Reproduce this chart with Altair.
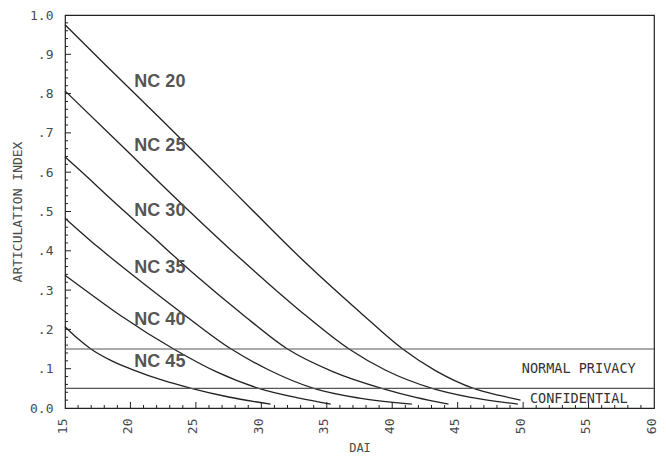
import altair as alt
import pandas as pd

# ---- data ----
NC_NAMES = ["NC 20", "NC 25", "NC 30", "NC 35", "NC 40", "NC 45"]

DAI_NC20 = [15, 18, 22.2, 26, 29.3, 32.9, 37.5, 40.8, 43.3, 46.2, 48.2, 49.8]
AI_NC20 = [0.975, 0.876, 0.739, 0.614, 0.504, 0.385, 0.245, 0.15, 0.095, 0.05, 0.032, 0.02]
DAI_NC25 = [15, 19, 24.4, 28.5, 32.9, 36.7, 39.5, 43.05, 46, 49.6]
AI_NC25 = [0.807, 0.678, 0.504, 0.377, 0.249, 0.15, 0.096, 0.05, 0.027, 0.01]
DAI_NC30 = [15, 16.7, 18.4, 21.5, 25, 28.5, 32.0, 35.5, 39.2, 41.8, 44.3]
AI_NC30 = [0.639, 0.588, 0.535, 0.442, 0.337, 0.24, 0.15, 0.092, 0.05, 0.027, 0.01]
DAI_NC35 = [15, 17.5, 20, 24, 27.7, 30.5, 34, 37.5, 41.5]
AI_NC35 = [0.483, 0.41, 0.343, 0.24, 0.15, 0.098, 0.05, 0.025, 0.01]
DAI_NC40 = [15, 17, 19.3, 23.3, 26.5, 29.8, 32.9, 35.3]
AI_NC40 = [0.338, 0.289, 0.234, 0.15, 0.093, 0.05, 0.025, 0.01]
DAI_NC45 = [15, 16, 16.9, 18.5, 20.2, 22.5, 24.65, 27.5, 30.7]
AI_NC45 = [0.207, 0.176, 0.152, 0.121, 0.097, 0.07, 0.05, 0.028, 0.01]

LABEL_DAI = [20.3, 20.3, 20.3, 20.3, 20.3, 20.3]
LABEL_AI = [0.830, 0.667, 0.501, 0.356, 0.224, 0.116]

LEVEL_NAMES = ["NORMAL PRIVACY", "CONFIDENTIAL"]
LEVEL_AI = [0.15, 0.05]
LEVEL_TEXT_DAI = [54.25, 54.25]
LEVEL_TEXT_AI = [0.099, 0.023]

X_TICKS = [15, 20, 25, 30, 35, 40, 45, 50, 55, 60]
X_TICK_LABELS = ["15", "20", "25", "30", "35", "40", "45", "50", "55", "60"]
X_MINOR = [v for v in range(16, 60) if v % 5 != 0]
X_MAJOR_INNER = [20, 25, 30, 35, 40, 45, 50, 55]
Y_TICKS = [0.0, 0.1, 0.2, 0.3, 0.4, 0.5, 0.6, 0.7, 0.8, 0.9, 1.0]
Y_TICK_LABELS = ["0.0", ".1", ".2", ".3", ".4", ".5", ".6", ".7", ".8", ".9", "1.0"]
Y_MINOR = [round(0.02 * i, 2) for i in range(1, 50) if i % 5 != 0]
Y_MAJOR_INNER = [0.1, 0.2, 0.3, 0.4, 0.5, 0.6, 0.7, 0.8, 0.9]

# ---- tables ----
series = [(DAI_NC20, AI_NC20), (DAI_NC25, AI_NC25), (DAI_NC30, AI_NC30),
          (DAI_NC35, AI_NC35), (DAI_NC40, AI_NC40), (DAI_NC45, AI_NC45)]
rows = []
for name, (xs, ys) in zip(NC_NAMES, series):
    for i, (x, y) in enumerate(zip(xs, ys)):
        rows.append({"nc": name, "dai": x, "ai": y, "order": i})
curves = pd.DataFrame(rows)
labels = pd.DataFrame({"nc": NC_NAMES, "dai": LABEL_DAI, "ai": LABEL_AI})
levels = pd.DataFrame({"ai": LEVEL_AI})
level_text = pd.DataFrame({"name": LEVEL_NAMES, "dai": LEVEL_TEXT_DAI, "ai": LEVEL_TEXT_AI})
xminor = pd.DataFrame({"dai": X_MINOR})
xmajor = pd.DataFrame({"dai": X_MAJOR_INNER})
yminor = pd.DataFrame({"ai": Y_MINOR})
ymajor = pd.DataFrame({"ai": Y_MAJOR_INNER})

W, H = 589, 393
FONT = "DejaVu Sans Mono"
INK = "#222222"
GREY = "#4a4a4a"

xscale = alt.Scale(domain=[15, 60], nice=False, zero=False)
yscale = alt.Scale(domain=[0, 1], nice=False)

y_label_expr = "[" + ",".join("'" + s + "'" for s in Y_TICK_LABELS) + "][round(datum.value*10)]"
x_label_expr = "[" + ",".join("'" + s + "'" for s in X_TICK_LABELS) + "][round((datum.value-15)/5)]"

xaxis = alt.Axis(values=X_TICKS, labelExpr=x_label_expr, labelAngle=270, ticks=False,
                 tickSize=0, domain=False, grid=False, labelPadding=10, labelOffset=-3,
                 labelFont=FONT, labelFontSize=13, labelColor=GREY,
                 title="DAI", titleFont=FONT, titleFontSize=12, titleFontWeight="normal",
                 titleColor=GREY, titlePadding=9)
yaxis = alt.Axis(values=Y_TICKS, labelExpr=y_label_expr, ticks=False, tickSize=0,
                 domain=False, grid=False, labelPadding=12,
                 labelFont=FONT, labelFontSize=13, labelColor=GREY,
                 title="ARTICULATION INDEX", titleFont=FONT, titleFontSize=13,
                 titleFontWeight="normal", titleColor=GREY, titlePadding=5)

X = lambda: alt.X("dai:Q", scale=xscale, axis=xaxis)
Y = lambda: alt.Y("ai:Q", scale=yscale, axis=yaxis)

lines = alt.Chart(curves).mark_line(color=INK, strokeWidth=1.3, interpolate="monotone").encode(
    x=X(), y=Y(), detail="nc:N", order="order:Q",
)

level_rules = alt.Chart(levels).mark_rule(color="#555555", strokeWidth=1.1).encode(y=Y())

nc_text = alt.Chart(labels).mark_text(
    font="Liberation Sans", fontSize=18, fontWeight="bold", color="#555555",
    align="left", baseline="middle"
).encode(x=X(), y=Y(), text="nc:N")

lvl_text = alt.Chart(level_text).mark_text(
    font=FONT, fontSize=13.5, color="#333333", align="center", baseline="middle"
).encode(x=X(), y=Y(), text="name:N")

xmin_t = alt.Chart(xminor).mark_rule(color=INK, strokeWidth=1).encode(
    x=X(), y=alt.value(H), y2=alt.value(H - 3))
xmaj_t = alt.Chart(xmajor).mark_rule(color=INK, strokeWidth=1).encode(
    x=X(), y=alt.value(H), y2=alt.value(H - 6))
ymin_t = alt.Chart(yminor).mark_rule(color=INK, strokeWidth=1).encode(
    y=Y(), x=alt.value(0), x2=alt.value(3))
ymaj_t = alt.Chart(ymajor).mark_rule(color=INK, strokeWidth=1).encode(
    y=Y(), x=alt.value(0), x2=alt.value(6))

chart = alt.layer(
    lines, level_rules, xmin_t, xmaj_t, ymin_t, ymaj_t, nc_text, lvl_text
).properties(
    width=W, height=H,
    autosize=alt.AutoSizeParams(type="none"),
    padding={"left": 57, "top": 7, "right": 4, "bottom": 49},
    background="white",
).configure_view(
    stroke=INK, strokeWidth=1.2
)

chart.save("out.html", embed_options={"renderer": "svg", "actions": False})
